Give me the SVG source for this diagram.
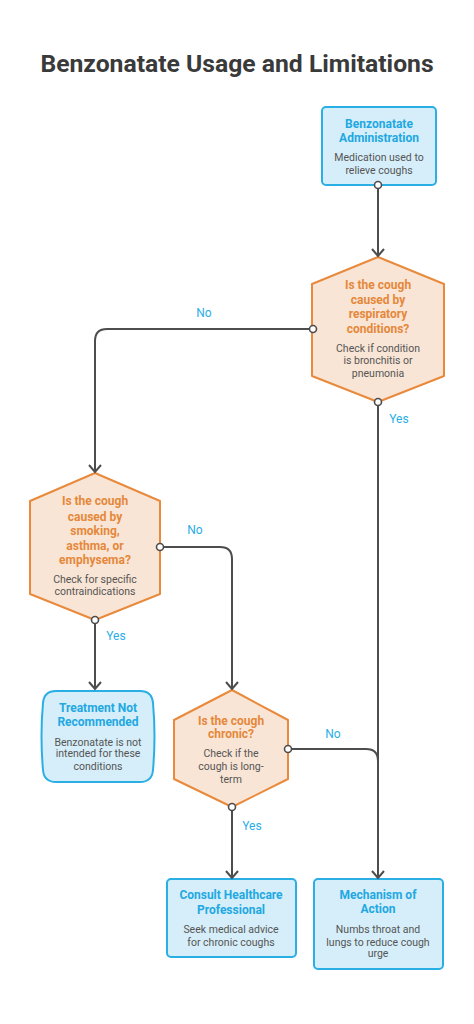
<svg xmlns="http://www.w3.org/2000/svg" width="474" height="1024" viewBox="0 0 474 1024">
<style>
.bg{fill:#ffffff}
.title{font-family:Roboto,"Liberation Sans",sans-serif;font-weight:700;font-size:24.7px;fill:#3a3a3a;text-anchor:middle}
.box{fill:#d5eef9;stroke:#2aafe5;stroke-width:2}
.hex{fill:#f9e5d6;stroke:#e8893b;stroke-width:2;stroke-linejoin:round}
.bt{font-family:Roboto,"Liberation Sans",sans-serif;font-weight:700;font-size:12px;fill:#22a8e2;text-anchor:middle}
.ht{font-family:Roboto,"Liberation Sans",sans-serif;font-weight:700;font-size:12px;fill:#e5883a;text-anchor:middle}
.d{font-family:Roboto,"Liberation Sans",sans-serif;font-size:10.5px;fill:#555555;text-anchor:middle}
.c{fill:none;stroke:#4d4d4d;stroke-width:2}
.dot{fill:#ffffff;stroke:#4d4d4d;stroke-width:1.6}
.lbl{font-family:Roboto,"Liberation Sans",sans-serif;font-size:12px;fill:#29aee6;text-anchor:middle}
</style>
<defs>
<marker id="arr" markerUnits="userSpaceOnUse" markerWidth="16" markerHeight="16" viewBox="-10 -8 12 16" refX="0" refY="0" orient="auto">
<path d="M-7,-6 L0,0 L-7,6" fill="none" stroke="#4d4d4d" stroke-width="2"/>
</marker>
</defs>
<rect class="bg" x="0" y="0" width="474" height="1024"/>
<text class="title" x="237" y="72">Benzonatate Usage and Limitations</text>

<g id="n-admin">
<rect class="box" x="322" y="107" width="114" height="78" rx="4"/>
<text class="bt" x="379" y="128">Benzonatate</text>
<text class="bt" x="379" y="142">Administration</text>
<text class="d" x="379" y="161">Medication used to</text>
<text class="d" x="379" y="174">relieve coughs</text>
</g>

<g id="n-resp">
<polygon class="hex" points="378,257 444,284 444,376 378,402 312,376 312,284"/>
<text class="ht" x="378" y="289">Is the cough</text>
<text class="ht" x="378" y="304">caused by</text>
<text class="ht" x="378" y="318">respiratory</text>
<text class="ht" x="378" y="333">conditions?</text>
<text class="d" x="378" y="352">Check if condition</text>
<text class="d" x="378" y="364">is bronchitis or</text>
<text class="d" x="378" y="377">pneumonia</text>
</g>

<g id="n-smoke">
<polygon class="hex" points="95,473 160,501 160,594 95,620 30,594 30,501"/>
<text class="ht" x="95" y="505">Is the cough</text>
<text class="ht" x="95" y="521">caused by</text>
<text class="ht" x="95" y="535">smoking,</text>
<text class="ht" x="95" y="550">asthma, or</text>
<text class="ht" x="95" y="564">emphysema?</text>
<text class="d" x="95" y="583">Check for specific</text>
<text class="d" x="95" y="595">contraindications</text>
</g>

<g id="n-notrec">
<path class="box" d="M56,691 L140,691 Q152,691 153,703 Q156,736 153,770 Q152,782 140,782 L56,782 Q44,782 43,770 Q40,736 43,703 Q44,691 56,691 Z"/>
<text class="bt" x="98" y="712">Treatment Not</text>
<text class="bt" x="98" y="726">Recommended</text>
<text class="d" x="98" y="746">Benzonatate is not</text>
<text class="d" x="98" y="757">intended for these</text>
<text class="d" x="98" y="770">conditions</text>
</g>

<g id="n-chronic">
<polygon class="hex" points="232,690 288,720 288,779 232,807 174,779 174,720"/>
<text class="ht" x="231" y="725">Is the cough</text>
<text class="ht" x="231" y="738">chronic?</text>
<text class="d" x="231" y="757">Check if the</text>
<text class="d" x="231" y="770">cough is long-</text>
<text class="d" x="231" y="783">term</text>
</g>

<g id="n-consult">
<rect class="box" x="167" y="879" width="129" height="78" rx="4"/>
<text class="bt" x="231" y="899">Consult Healthcare</text>
<text class="bt" x="231" y="914">Professional</text>
<text class="d" x="231" y="933">Seek medical advice</text>
<text class="d" x="231" y="946">for chronic coughs</text>
</g>

<g id="n-mech">
<rect class="box" x="314" y="879" width="129" height="90" rx="4"/>
<text class="bt" x="378" y="899">Mechanism of</text>
<text class="bt" x="378" y="913">Action</text>
<text class="d" x="378" y="933">Numbs throat and</text>
<text class="d" x="378" y="946">lungs to reduce cough</text>
<text class="d" x="378" y="957">urge</text>
</g>

<g id="connectors">
<path class="c" d="M378,185 V256" marker-end="url(#arr)"/>
<path class="c" d="M313,329 H107 Q95,329 95,341 V472" marker-end="url(#arr)"/>
<path class="c" d="M378,402 V878" marker-end="url(#arr)"/>
<path class="c" d="M160,547 H220 Q232,547 232,559 V689" marker-end="url(#arr)"/>
<path class="c" d="M95,620 V689" marker-end="url(#arr)"/>
<path class="c" d="M288,749 H366 Q378,749 378,761"/>
<path class="c" d="M232,807 V878" marker-end="url(#arr)"/>
<circle class="dot" cx="378" cy="185" r="3.5"/>
<circle class="dot" cx="313" cy="329" r="3.5"/>
<circle class="dot" cx="378" cy="402" r="3.5"/>
<circle class="dot" cx="160" cy="547" r="3.5"/>
<circle class="dot" cx="95" cy="620" r="3.5"/>
<circle class="dot" cx="288" cy="749" r="3.5"/>
<circle class="dot" cx="232" cy="807" r="3.5"/>
<text class="lbl" x="204" y="317">No</text>
<text class="lbl" x="399" y="423">Yes</text>
<text class="lbl" x="195" y="534">No</text>
<text class="lbl" x="116" y="640">Yes</text>
<text class="lbl" x="333" y="738">No</text>
<text class="lbl" x="252" y="830">Yes</text>
</g>
</svg>
